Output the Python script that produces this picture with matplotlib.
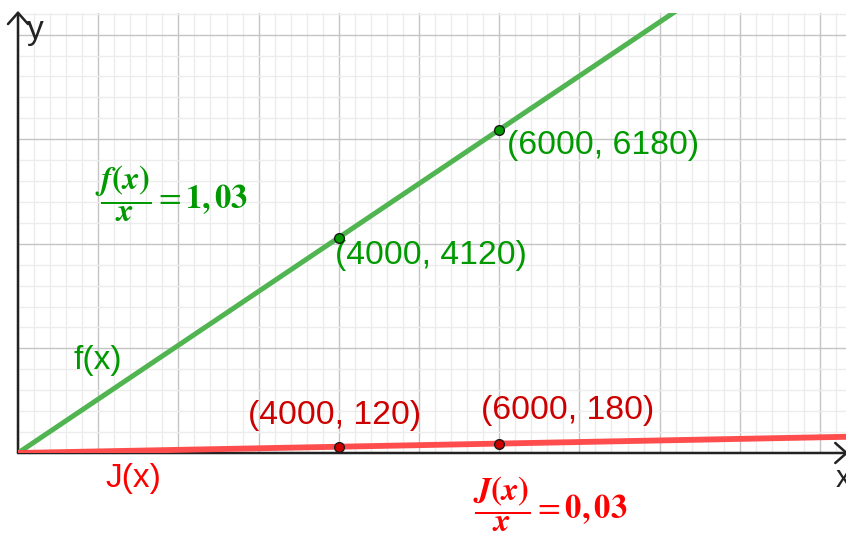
import numpy as np
import matplotlib
matplotlib.use("Agg")
import matplotlib.pyplot as plt

plt.rcParams['font.family'] = ['Liberation Sans', 'DejaVu Sans']

# data
point_x = [4000, 6000]
f_vals = [4120, 6180]
j_vals = [120, 180]
f_ratio = 1.03
j_ratio = 0.03

x_max = 10324
y_max = 8413

fig = plt.figure(figsize=(8.46, 5.33), dpi=100)
ax = fig.add_axes([18/846, 80/533, 828/846, 440/533])
ax.set_xlim(0, x_max)
ax.set_ylim(0, y_max)

# grid like geogebra
ax.set_xticks(np.arange(0, x_max, 1000))
ax.set_xticks(np.arange(0, x_max, 200), minor=True)
ax.set_yticks(np.arange(0, y_max, 2000))
ax.set_yticks(np.arange(0, y_max, 400), minor=True)
ax.tick_params(which='both', length=0, labelbottom=False, labelleft=False)
ax.grid(which='major', color='#C4C4C4', lw=1.0)
ax.grid(which='minor', color='#ECECEC', lw=1.0)
ax.set_axisbelow(True)
for s in ax.spines.values():
    s.set_visible(False)

# axes with arrows
arr = dict(arrowstyle='->,head_length=0.45,head_width=0.4', lw=1.8, color='#222222',
           mutation_scale=18, shrinkA=0, shrinkB=0)
ax.annotate('', xy=(0, y_max + 40), xytext=(0, 0), arrowprops=arr, annotation_clip=False)
ax.annotate('', xy=(x_max + 30, 0), xytext=(0, 0), arrowprops=arr, annotation_clip=False)
ax.text(110, y_max - 330, 'y', fontsize=24, color='#222222', va='center', ha='left')
ax.text(x_max - 130, -500, 'x', fontsize=22, color='#222222', va='center', ha='left',
        clip_on=False)

# lines
xl = np.array([0, x_max + 500])
ax.plot(xl, f_ratio * xl, color='#50B450', lw=3.6, solid_capstyle='round', zorder=3)
ax.plot(xl, j_ratio * xl, color='#FF4D4D', lw=4.2, solid_capstyle='round', zorder=3)

# points
ax.plot(point_x, f_vals, 'o', ms=7, mfc='#009900', mec='#1a1a1a', mew=1, zorder=4)
ax.plot(point_x, j_vals, 'o', ms=7, mfc='#CC0000', mec='#1a1a1a', mew=1, zorder=4)

# point labels
green_offsets = [(-4, -18), (8, -16)]
red_offsets = [(-91, 31), (-18, 33)]
for xv, yv, off in zip(point_x, f_vals, green_offsets):
    ax.annotate(f'({xv}, {yv})', (xv, yv), xytext=off, textcoords='offset pixels',
                fontsize=24.3, color='#009900', va='center', ha='left')
for xv, yv, off in zip(point_x, j_vals, red_offsets):
    ax.annotate(f'({xv}, {yv})', (xv, yv), xytext=off, textcoords='offset pixels',
                fontsize=24.3, color='#CC0000', va='center', ha='left', annotation_clip=False)

# function labels
ax.text(698, 1778, 'f(x)', fontsize=24, color='#009900', va='center', ha='left')
ax.text(1097, -497, 'J(x)', fontsize=24, color='#FF0000', va='center', ha='left', clip_on=False)

ax.text(960, 4950, r'$\dfrac{\boldsymbol{f(x)}}{\boldsymbol{x}} = \mathbf{1,03}$',
        fontsize=23.5, color='#009900', va='center', ha='left', math_fontfamily='stix')
ax.text(5673, -990, r'$\dfrac{\boldsymbol{J(x)}}{\boldsymbol{x}} = \mathbf{0,03}$',
        fontsize=23.5, color='#FF0000', va='center', ha='left', math_fontfamily='stix',
        clip_on=False)

fig.savefig('out.png', dpi=100)
